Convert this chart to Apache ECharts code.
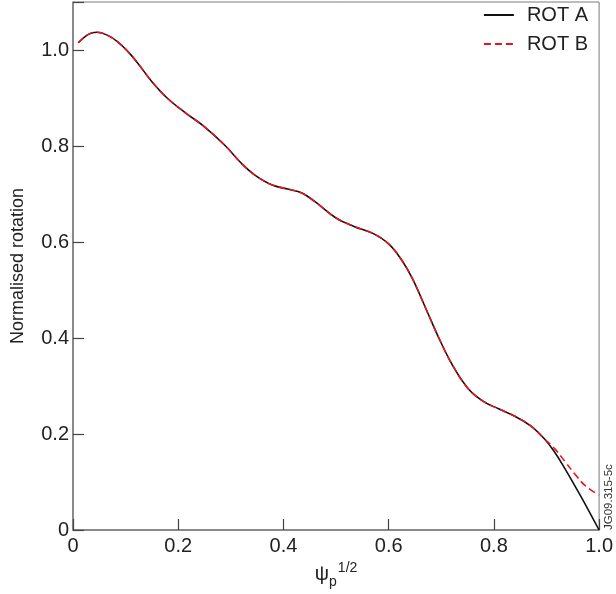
<!doctype html>
<html lang="en">
<head>
  <meta charset="utf-8">
  <title>Normalised rotation</title>
  <script src="https://cdn.jsdelivr.net/npm/echarts@6/dist/echarts.min.js"></script>
  <style>
    html, body { margin: 0; padding: 0; background: #fff; }
    #chart { width: 616px; height: 594px; }
  </style>
</head>
<body>
  <div id="chart"></div>
  <script>
    // psi_p^1/2 positions
    var psi = [0.01, 0.03, 0.045, 0.065, 0.085, 0.105, 0.125, 0.15, 0.18, 0.215,
      0.25, 0.29, 0.32, 0.345, 0.38, 0.41, 0.435, 0.46, 0.50, 0.535,
      0.57, 0.60, 0.625, 0.645, 0.67, 0.695, 0.72, 0.75, 0.78, 0.81,
      0.84, 0.87, 0.895, 0.915, 0.935, 0.955, 0.975, 1.0];
    var rotA = [1.015, 1.033, 1.037, 1.031, 1.017, 0.996, 0.970, 0.934, 0.899, 0.868,
      0.840, 0.800, 0.764, 0.740, 0.718, 0.710, 0.702, 0.684, 0.650, 0.632,
      0.618, 0.596, 0.562, 0.524, 0.463, 0.401, 0.346, 0.296, 0.268, 0.252,
      0.237, 0.217, 0.191, 0.163, 0.128, 0.090, 0.051, 0.0];
    var rotB = [1.015, 1.033, 1.037, 1.031, 1.017, 0.996, 0.970, 0.934, 0.899, 0.868,
      0.840, 0.800, 0.764, 0.740, 0.718, 0.710, 0.702, 0.684, 0.650, 0.632,
      0.618, 0.596, 0.562, 0.524, 0.463, 0.401, 0.346, 0.296, 0.268, 0.252,
      0.237, 0.217, 0.191, 0.170, 0.143, 0.115, 0.091, 0.073];

    function pairs(xs, ys) {
      return xs.map(function (x, i) { return [x, ys[i]]; });
    }
    function tickText(v) {
      if (v > 1.0001) return '';
      return v === 0 ? '0' : v.toFixed(1);
    }

    var font = "'Liberation Sans', Arial, sans-serif";
    var chart = echarts.init(document.getElementById('chart'));

    var option = {
      animation: false,
      textStyle: { fontFamily: font },
      grid: {
        left: 73, right: 14, top: 2, bottom: 64,
        show: true, borderColor: '#7a7a7a', borderWidth: 1
      },
      legend: {
        orient: 'vertical',
        right: 23, top: 0,
        itemWidth: 30, itemHeight: 14, itemGap: 9,
        itemStyle: { opacity: 0 },
        textStyle: { fontSize: 20, color: '#222', fontFamily: font, padding: [0, 0, 0, 8] },
        data: ['ROT A', 'ROT B']
      },
      xAxis: {
        type: 'value', min: 0, max: 1, interval: 0.2,
        name: '{a|ψ}{b|p}{c|1/2}',
        nameLocation: 'middle', nameGap: 25,
        nameTextStyle: {
          color: '#222',
          rich: {
            a: { fontSize: 20, lineHeight: 20, fontFamily: font, color: '#222' },
            b: { fontSize: 14, lineHeight: 14, padding: [14, 0, 0, 0], fontFamily: font, color: '#222' },
            c: { fontSize: 14, lineHeight: 14, padding: [0, 0, 14, 1], fontFamily: font, color: '#222' }
          }
        },
        axisLine: { lineStyle: { color: '#7a7a7a', width: 1.5 } },
        axisTick: { inside: true, length: 11, lineStyle: { color: '#444', width: 1.2 } },
        axisLabel: { fontSize: 20, color: '#222', margin: 6, formatter: tickText },
        splitLine: { show: false }
      },
      yAxis: {
        type: 'value', min: 0, max: 1.1, interval: 0.2,
        name: 'Normalised rotation',
        nameLocation: 'middle', nameGap: 46, nameRotate: 90,
        nameTextStyle: { fontSize: 18, color: '#222' },
        axisLine: { show: true, lineStyle: { color: '#7a7a7a', width: 1.5 } },
        axisTick: { show: true, inside: true, length: 11, lineStyle: { color: '#444', width: 1.2 } },
        axisLabel: { fontSize: 20, color: '#222', margin: 4, formatter: tickText },
        splitLine: { show: false }
      },
      graphic: [{
        type: 'text',
        x: 609, y: 530,
        rotation: Math.PI / 2,
        style: {
          text: 'JG09.315-5c',
          fontSize: 11.5, fontFamily: font, fill: '#333',
          align: 'left', verticalAlign: 'middle'
        }
      }],
      series: [
        {
          name: 'ROT A', type: 'line', smooth: 0.4, symbol: 'none',
          data: pairs(psi, rotA),
          lineStyle: { color: '#111', width: 1.6 },
          itemStyle: { color: '#111' }
        },
        {
          name: 'ROT B', type: 'line', smooth: 0.4, symbol: 'none',
          data: pairs(psi, rotB),
          lineStyle: { color: '#e8141c', width: 1.6, type: [7, 4] },
          itemStyle: { color: '#e8141c' }
        }
      ]
    };
    chart.setOption(option);
  </script>
</body>
</html>
